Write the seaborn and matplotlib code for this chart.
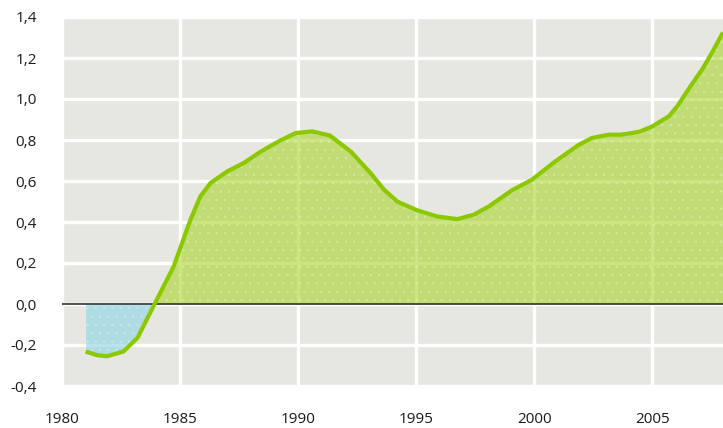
import numpy as np
import pandas as pd
import matplotlib
matplotlib.use("Agg")
import matplotlib.pyplot as plt
import seaborn as sns

# Series read as (year, value) pairs
years = [1981.0, 1981.5, 1981.9, 1982.6, 1983.2, 1983.9, 1984.73, 1985.44, 1985.86,
         1986.29, 1987.0, 1987.7, 1988.4, 1989.2, 1989.9, 1990.6, 1991.35, 1992.23,
         1993.07, 1993.64, 1994.2, 1995.05, 1995.9, 1996.75, 1997.45, 1998.08,
         1999.05, 1999.9, 2000.9, 2001.9, 2002.45, 2003.15, 2003.66, 2004.15, 2004.5,
         2005.0, 2005.35, 2005.7, 2006.06, 2006.62, 2007.15, 2007.6, 2008.0]
values = [-0.232, -0.25, -0.255, -0.232, -0.165, -0.005, 0.183, 0.411, 0.525,
          0.59, 0.647, 0.688, 0.742, 0.795, 0.834, 0.842, 0.822, 0.744,
          0.639, 0.558, 0.50, 0.457, 0.427, 0.414, 0.436, 0.476,
          0.554, 0.606, 0.696, 0.777, 0.81, 0.826, 0.826, 0.834, 0.842,
          0.866, 0.891, 0.915, 0.964, 1.062, 1.15, 1.24, 1.325]

x_ticks = [1980, 1985, 1990, 1995, 2000, 2005]
y_ticks = [-0.4, -0.2, 0.0, 0.2, 0.4, 0.6, 0.8, 1.0, 1.2, 1.4]

df = pd.DataFrame({"year": years, "value": values})

sns.set_theme(style="white")
plt.rcParams["font.family"] = ["Open Sans", "DejaVu Sans"]

fig = plt.figure(figsize=(7.23, 4.28), dpi=100)
ax = fig.add_axes([62 / 723, 1 - 386 / 428, 1 - 62 / 723, (386 - 17) / 428])
ax.set_facecolor("#e7e7e2")

x = df["year"].to_numpy()
y = df["value"].to_numpy()

# Areas above and below zero
ax.fill_between(x, 0, y, where=y >= 0, interpolate=True,
                facecolor="#a9d42c", alpha=0.6, linewidth=0, zorder=2)
ax.fill_between(x, 0, y, where=y <= 0, interpolate=True,
                facecolor="#8bd3e4", alpha=0.6, linewidth=0, zorder=2)
# Fine dot texture on the filled area
plt.rcParams["hatch.linewidth"] = 0.5
ax.fill_between(x, 0, y, facecolor="none", edgecolor=(1, 1, 1, 0.25),
                hatch="..", linewidth=0, zorder=2.1)

sns.lineplot(data=df, x="year", y="value", ax=ax, color="#8cc800",
             linewidth=3.0, zorder=4, solid_capstyle="butt",
             solid_joinstyle="round")

ax.axhline(0, color="#222222", linewidth=1.1, zorder=3)

ax.set_xlim(1980, 2008)
ax.set_ylim(-0.4, 1.4)
ax.set_xticks(x_ticks)
ax.set_yticks(y_ticks)
ax.set_xticklabels([str(t) for t in x_ticks])
ax.set_yticklabels([f"{t:.1f}".replace(".", ",") for t in y_ticks])
ax.grid(True, color="white", linewidth=2.4, zorder=1)
ax.set_axisbelow(True)
for s in ax.spines.values():
    s.set_visible(False)
ax.tick_params(axis="both", length=0, labelsize=11, colors="#1a1a1a")
ax.tick_params(axis="y", pad=18)
ax.tick_params(axis="x", pad=19)
ax.set_xlabel("")
ax.set_ylabel("")

fig.savefig("out.png", dpi=100)
